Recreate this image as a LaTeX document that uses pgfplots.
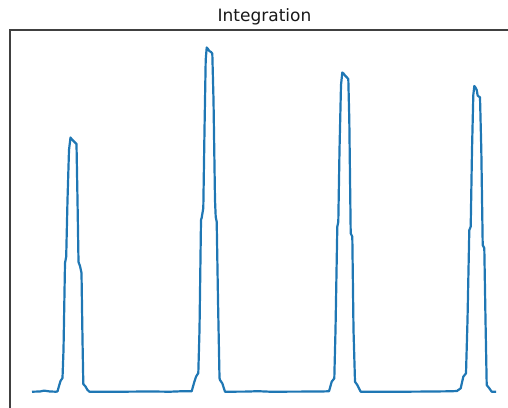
\documentclass[border=0pt]{standalone}
\usepackage{pgfplots}
\pgfplotsset{compat=1.18}
\usepackage{fontspec}
\setmainfont{DejaVu Sans}
\definecolor{mplblue}{HTML}{1F77B4}
\begin{document}
\begin{tikzpicture}
\useasboundingbox (0pt,0pt) rectangle (508pt,-407pt);
\clip (0pt,0pt) rectangle (508pt,-407pt);
\begin{axis}[
  scale only axis,
  width=509pt, height=380pt,
  at={(10pt,-410pt)}, anchor=south west,
  xmin=10, xmax=519, ymin=-3, ymax=377,
  xtick=\empty, ytick=\empty,
  axis line style={draw=black!75, line width=1.1pt},
]
\addplot[mplblue, line width=2.2pt, line join=round] coordinates {
(32,15.3) (40,15.5) (44,16.4) (50,15.5) (56,15.3) (57.5,15.6)
(59,21) (60.5,26) (62.5,29) (63.5,57) (65,144) (66.2,150.3)
(67.5,207) (69,257) (70.5,269.5) (72,267.5) (74,265.5) (76.5,263)
(77.5,207) (78.5,145) (80,141) (81.5,134) (82.5,67) (83.3,23)
(85.5,20.5) (87.5,17) (89.5,15.3) (120,15.3) (150,15.5) (170,15.3)
(183,15.8) (191.7,15.8)
(194,24) (196,30.3) (198.3,34) (199.5,77) (201,187) (201.7,189.3)
(203.3,199) (204.5,277) (205.7,347) (206.7,359.5) (208,358) (209.3,356)
(211,355) (212.3,353.5) (213.5,307) (215,207) (215.7,190.3) (216.7,185.3)
(218,107) (219.5,29) (220,27) (222.3,23.7) (225,15.3)
(245,15.4) (258,15.8) (270,15.3) (300,15.4) (320,15.5) (328,15.7)
(329,15.7) (331.7,25.3) (334.3,28.7) (335.5,77) (337.3,180.3) (338.3,185.3)
(339.5,257) (341,322) (342.3,334.5) (343.5,333.5) (345,331.5) (346.5,330)
(348.3,328) (349.3,287) (350.7,173.7) (352.3,170.3) (353.5,77) (355,25.3)
(357.3,22) (360.7,15.3)
(400,15.3) (420,15.4) (450,15.7) (457,16)
(458.3,17) (460.7,18.7) (463.3,30.3) (466,33.7) (467.5,87) (469.3,177)
(470.7,180.3) (472,257) (473.3,312) (474.3,321) (475.5,319.5) (476.7,317)
(477.7,311.3) (480,309.7) (481.3,257) (482.7,162) (484.3,158.7) (485.5,87)
(486.7,22) (489.3,18.7) (491.7,15.3) (496,15.3)
};
\end{axis}
\node[anchor=base, font=\fontsize{17}{20}\selectfont, text=black!90] at (264.5pt,-21.7pt) {Integration};
\end{tikzpicture}
\end{document}
